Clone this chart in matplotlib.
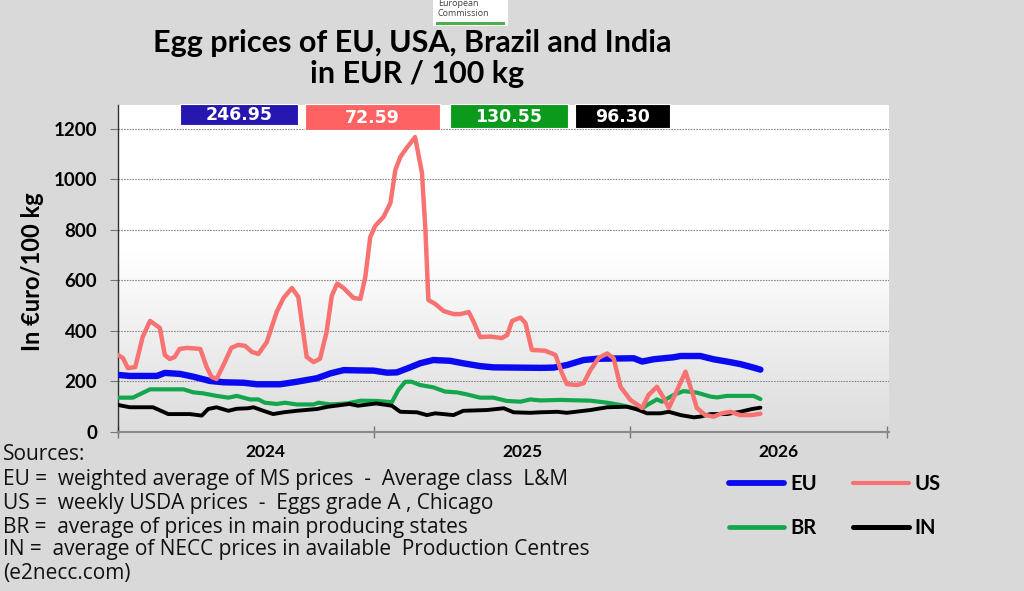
import matplotlib
matplotlib.use("Agg")
import matplotlib.pyplot as plt
import numpy as np
from matplotlib.patches import Rectangle
from matplotlib.lines import Line2D

W, H = 1024, 591

# ---------------- data (x = week index from start of axis) ----------------
us_w = [0, 1, 2, 3.5, 5, 6.5, 8.5, 9.5, 10.5, 11.5, 12.5, 14, 16.7, 18, 19, 20, 21.4, 23, 24.4,
        25.8, 27.2, 28.5, 30.2, 32.2, 33.6, 35.3, 36.6, 38.3, 39.7, 41, 42.3, 43.4, 44.5, 45.8,
        47.8, 49.2, 50.2, 51.2, 52.2, 53.9, 55.3, 56.3, 57.3, 58.6, 60.3, 61.7, 62.4, 63, 64.4,
        66.1, 68.1, 69.5, 71.2, 72.2, 73.5, 75.6, 77.9, 79, 80, 81.7, 82.7, 84, 86.7, 88.8, 90.1,
        91.1, 93.2, 94.5, 95.9, 97.6, 99.3, 100.6, 102, 104, 106.4, 107.7, 109.4, 110.8, 111.8,
        113.5, 115.2, 116.5, 117.5, 119.2, 120.9, 122.6, 124.3, 126.3, 128.7, 130.4]
us_v = [305, 293, 253, 257, 376, 440, 412, 305, 289, 297, 329, 333, 329, 257, 218, 210, 265, 333, 345,
        341, 317, 309, 356, 475, 531, 570, 535, 297, 277, 290, 392, 540, 588, 570,
        531, 527, 614, 772, 816, 852, 907, 1038, 1089, 1125, 1168, 1026, 800, 523, 507,
        479, 467, 467, 475, 436, 376, 378, 372, 384, 440, 453, 432, 325, 322, 305, 234,
        190, 186, 193, 246, 294, 311, 292, 179, 127, 95, 147, 179, 134, 95,
        166, 239, 160, 95, 67, 61, 74, 80, 67, 67, 72.59]

eu_w = [0, 2.4, 7.9, 9.5, 12.6, 15.3, 18.7, 21.4, 25.5, 28.2, 32.9, 36.3, 40.4, 43.1, 45.8, 51.9,
        54.6, 56.6, 59.3, 61.3, 64.0, 67.4, 70.1, 73.5, 76.2, 85.7, 88.4, 91.1, 94.5, 97.2, 104.7,
        106.4, 108.7, 112.8, 114.2, 118.2, 120.9, 123.6, 126.3, 129.0, 130.4]
eu_v = [226, 222, 222, 234, 230, 219, 202, 197, 195, 189, 189, 199, 213, 232, 245, 243,
        235, 236, 256, 272, 285, 282, 272, 261, 256, 254, 255, 265, 285, 290, 292,
        279, 288, 296, 301, 301, 288, 279, 269, 255, 246.95]

br_w = [0, 3, 4.5, 6.5, 13.3, 15.3, 17.3, 20, 22.4, 24.1, 26.8, 28.5, 29.8, 32.2, 33.9, 36.3, 39.7,
        40.7, 43.1, 46.5, 49.2, 52.5, 55.6, 56.9, 58.3, 59.6, 61.3, 64, 66.4, 68.8, 70.8, 73.5,
        76.2, 78.9, 81.7, 83.7, 85.7, 89.8, 95.9, 99.3, 102, 104, 106, 107.4, 109.4, 110.4, 112.8,
        114.8, 117.5, 120.3, 121.6, 123.6, 129, 130.4]
br_v = [136, 136, 150, 169, 169, 157, 153, 143, 136, 143, 129, 129, 116, 111, 116, 109, 109,
        116, 109, 113, 124, 123, 118, 166, 199, 199, 186, 177, 160, 157, 149, 136,
        136, 123, 120, 129, 125, 127, 124, 116, 107, 98, 87, 107, 129, 120, 147,
        162, 156, 140, 137, 143, 143, 130.55]

in_w = [0, 2.4, 7.1, 10.2, 14.6, 17, 18.3, 20, 22.4, 24.1, 26.4, 27.5, 29.5, 31.5, 33.6, 36.3, 40.4,
        42.6, 47.0, 48.7, 52.4, 55.6, 57.3, 60.7, 62.7, 64.4, 68.1, 70.1, 74.9, 78.3, 80.3, 83.7,
        85.7, 89.2, 91.1, 95.9, 99.3, 103.3, 105.3, 107.4, 110.1, 111.8, 114.2, 116.9, 118.2,
        120.3, 123.6, 126.3, 128.7, 130.4]
in_v = [107, 98, 98, 71, 71, 65, 91, 98, 84, 92, 94, 98, 84, 71, 78, 84, 91,
        100, 111, 104, 113, 104, 80, 78, 67, 74, 67, 84, 87, 94, 78, 76,
        78, 80, 76, 87, 98, 100, 90, 74, 74, 80, 67, 58, 61,
        71, 71, 80, 91, 96.3]

year_ticks = [0, 52, 104, 156]
year_labels = ["2024", "2025", "2026"]
year_label_pos = [30, 82, 134]
yticks = [0, 200, 400, 600, 800, 1000, 1200]

last_values = ["246.95", "72.59", "130.55", "96.30"]

series_names = ["EU", "US", "BR", "IN"]
colors = {"EU": "#0a0af0", "US": "#f87272", "BR": "#14a64c", "IN": "#000000"}
widths = {"EU": 4.6, "US": 3.2, "BR": 3.0, "IN": 2.8}
leg_widths = {"EU": 4.2, "US": 3.0, "BR": 3.4, "IN": 3.6}
box_colors = ["#2517b0", "#ff6262", "#0b9a1c", "#000000"]

sources = [
    "Sources:",
    "EU =  weighted average of MS prices  -  Average class  L&M",
    "US =  weekly USDA prices  -  Eggs grade A , Chicago",
    "BR =  average of prices in main producing states",
    "IN =  average of NECC prices in available  Production Centres",
    "(e2necc.com)",
]

# ---------------- figure ----------------
BG = "#d9d9d9"
fig = plt.figure(figsize=(W / 100, H / 100), dpi=100, facecolor=BG)

def fx(x):
    return x / W

def fy(y):
    return 1 - y / H

L, R, T, B = 118, 889, 105, 432
ax = fig.add_axes([fx(L), fy(B), (R - L) / W, (B - T) / H])
ax.set_xlim(0, 156.5)
ax.set_ylim(0, 1295)

# gradient background
grad = np.ones((256, 1, 3))
frac = np.linspace(0, 1, 256)  # 0 bottom, 1 top
shade = np.clip(frac / 0.55, 0, 1)
g = 0.865 + (1 - 0.865) * shade
grad[:, 0, 0] = g
grad[:, 0, 1] = g
grad[:, 0, 2] = g
ax.imshow(grad, extent=[0, 1, 0, 1], transform=ax.transAxes, origin="lower",
          aspect="auto", zorder=0)
ax.set_facecolor("white")

for y in yticks[1:]:
    ax.axhline(y, color="#8a8a8a", lw=0.8, ls=(0, (1.5, 1.0)), zorder=1)

ax.plot(eu_w, eu_v, color=colors["EU"], lw=widths["EU"], solid_capstyle="round",
        solid_joinstyle="round", zorder=3, label="EU")
ax.plot(br_w, br_v, color=colors["BR"], lw=widths["BR"], solid_capstyle="round",
        solid_joinstyle="round", zorder=4, label="BR")
ax.plot(us_w, us_v, color=colors["US"], lw=widths["US"], solid_capstyle="round",
        solid_joinstyle="round", zorder=5, label="US")
ax.plot(in_w, in_v, color=colors["IN"], lw=widths["IN"], solid_capstyle="round",
        solid_joinstyle="round", zorder=4, label="IN")

for s in ["top", "right"]:
    ax.spines[s].set_visible(False)
ax.spines["left"].set_color("#333333")
ax.spines["left"].set_linewidth(1.0)
ax.spines["bottom"].set_color("#8a8a8a")
ax.spines["bottom"].set_linewidth(1.5)

ax.set_yticks(yticks)
ax.set_yticklabels([str(v) for v in yticks], fontfamily="Lato", fontweight="bold",
                   fontsize=13.5)
ax.tick_params(axis="y", direction="out", length=6, color="#777777", pad=9)
ax.set_xticks(year_ticks)
ax.set_xticklabels([])
ax.tick_params(axis="x", direction="inout", length=9, color="#777777", width=1.0)

for lab, xp in zip(year_labels, year_label_pos):
    ax.text(xp, -0.037, lab, transform=ax.get_xaxis_transform(), ha="center", va="top",
            fontfamily="Lato", fontweight="bold", fontsize=12.5)

fig.text(fx(33), fy(272), "In €uro/100 kg", rotation=90, ha="center", va="center",
         fontfamily="Lato", fontweight="bold", fontsize=17)

# title
fig.text(fx(412), fy(43), "Egg prices of EU, USA, Brazil and India", ha="center",
         va="center", fontfamily="Lato", fontweight="bold", fontsize=22)
fig.text(fx(417), fy(74), "in EUR / 100 kg", ha="center", va="center",
         fontfamily="Lato", fontweight="bold", fontsize=22)

# EC logo
fig.patches.append(Rectangle((fx(433), fy(26)), 75 / W, 26 / H, transform=fig.transFigure,
                             facecolor="white", edgecolor="none", zorder=1))
fig.patches.append(Rectangle((fx(436), fy(25)), 69 / W, 3 / H, transform=fig.transFigure,
                             facecolor="#4cae4f", edgecolor="none", zorder=2))
fig.text(fx(438), fy(3), "European", ha="left", va="center", fontsize=6.5,
         color="#444444", fontfamily="Open Sans", zorder=3)
fig.text(fx(438), fy(14), "Commission", ha="left", va="center", fontsize=6.5,
         color="#444444", fontfamily="Open Sans", zorder=3)

# last value boxes
boxes = [(180, 298, 104, 125), (305, 440, 104, 130), (450, 568, 104, 128), (575, 670, 104, 128)]
for (x0, x1, y0, y1), c, t in zip(boxes, box_colors, last_values):
    fig.patches.append(Rectangle((fx(x0), fy(y1)), (x1 - x0) / W, (y1 - y0) / H,
                                 transform=fig.transFigure, facecolor=c, edgecolor="white",
                                 lw=0.8, zorder=5))
    fig.text(fx((x0 + x1) / 2), fy((y0 + y1) / 2 + 1), t, ha="center", va="center",
             color="white", fontfamily="DejaVu Sans", fontweight="bold", fontsize=12.5, zorder=6)

# sources
src_y = [455, 479, 503, 527, 550, 573]
for txt, yy in zip(sources, src_y):
    fig.text(fx(3), fy(yy), txt, ha="left", va="center", fontfamily="Open Sans",
             fontsize=15, color="#111111")

# legend
handles = {n: Line2D([], [], color=colors[n], lw=leg_widths[n], solid_capstyle="round")
           for n in series_names}
order = ["EU", "BR", "US", "IN"]
leg = fig.legend([handles[n] for n in order], order, loc="upper left",
                 bbox_to_anchor=(fx(729), fy(474)), ncol=2, frameon=False,
                 prop={"family": "Lato", "weight": "bold", "size": 14.5},
                 handlelength=2.75, handletextpad=0.3, columnspacing=1.8,
                 labelspacing=1.2, borderpad=0, borderaxespad=0)

fig.savefig("out.png", dpi=100, facecolor=BG)
